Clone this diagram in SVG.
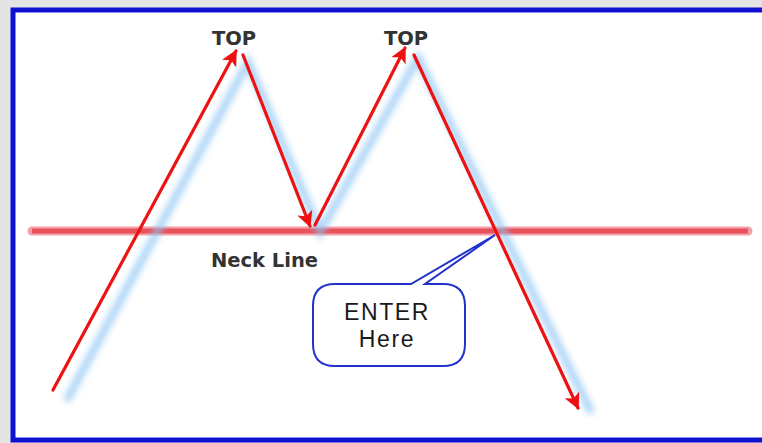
<svg xmlns="http://www.w3.org/2000/svg" width="762" height="443" viewBox="0 0 762 443">
<defs>
<style>
.arrow{stroke:#ee1111;stroke-width:3.2;fill:none;stroke-linecap:round}
.shadow{stroke:#8cc4f4;stroke-width:8;fill:none;stroke-linecap:round;opacity:0.7}
.lbl{font-family:"DejaVu Sans","Liberation Sans",sans-serif;font-weight:bold;fill:#333333;font-size:19.5px}
.call{font-family:"Liberation Sans",Arial,sans-serif;fill:#1a1a1a;font-size:23px;letter-spacing:1.6px}
</style>
<filter id="blur" x="-20%" y="-20%" width="140%" height="140%"><feGaussianBlur stdDeviation="3"/></filter>
<marker id="ah" viewBox="0 0 10 10" refX="9" refY="5" markerWidth="5" markerHeight="5" orient="auto" markerUnits="strokeWidth">
<path d="M0,0 L10,5 L0,10 L2.5,5 z" fill="#ee1111"/>
</marker>
</defs>
<rect x="0" y="0" width="762" height="443" fill="#e4e4e4"/>
<rect x="13" y="10" width="760" height="430" fill="#ffffff" stroke="#1010d0" stroke-width="5"/>
<g id="neckline">
<line x1="32" y1="231" x2="748" y2="231" stroke="#f4a0a8" stroke-width="9" stroke-linecap="round"/>
<line x1="32" y1="231" x2="748" y2="231" stroke="#e8505a" stroke-width="5"/>
</g>
<g id="connectors">
<g filter="url(#blur)">
<path class="shadow" d="M68,398 L248,62 L320,232 L418,58 L590,410"/>
</g>
<line class="arrow" x1="53" y1="390" x2="236" y2="51" marker-end="url(#ah)"/>
<line class="arrow" x1="243" y1="55" x2="310" y2="226" marker-end="url(#ah)"/>
<line class="arrow" x1="315" y1="225" x2="405" y2="48" marker-end="url(#ah)"/>
<line class="arrow" x1="414" y1="55" x2="578" y2="408" marker-end="url(#ah)"/>
</g>
<g id="top1"><text class="lbl" x="234" y="45" text-anchor="middle">TOP</text></g>
<g id="top2"><text class="lbl" x="406" y="45" text-anchor="middle">TOP</text></g>
<g id="necklabel"><text class="lbl" x="211" y="267">Neck Line</text></g>
<g id="callout">
<path d="M335,284 L411,284 L495,235 L425,284 L443,284 Q465,284 465,306 L465,344 Q465,366 443,366 L335,366 Q313,366 313,344 L313,306 Q313,284 335,284 Z" fill="#ffffff" stroke="#2233cc" stroke-width="2"/>
<text class="call" x="387" y="320" text-anchor="middle">ENTER</text>
<text class="call" x="387" y="347" text-anchor="middle">Here</text>
</g>
</svg>
